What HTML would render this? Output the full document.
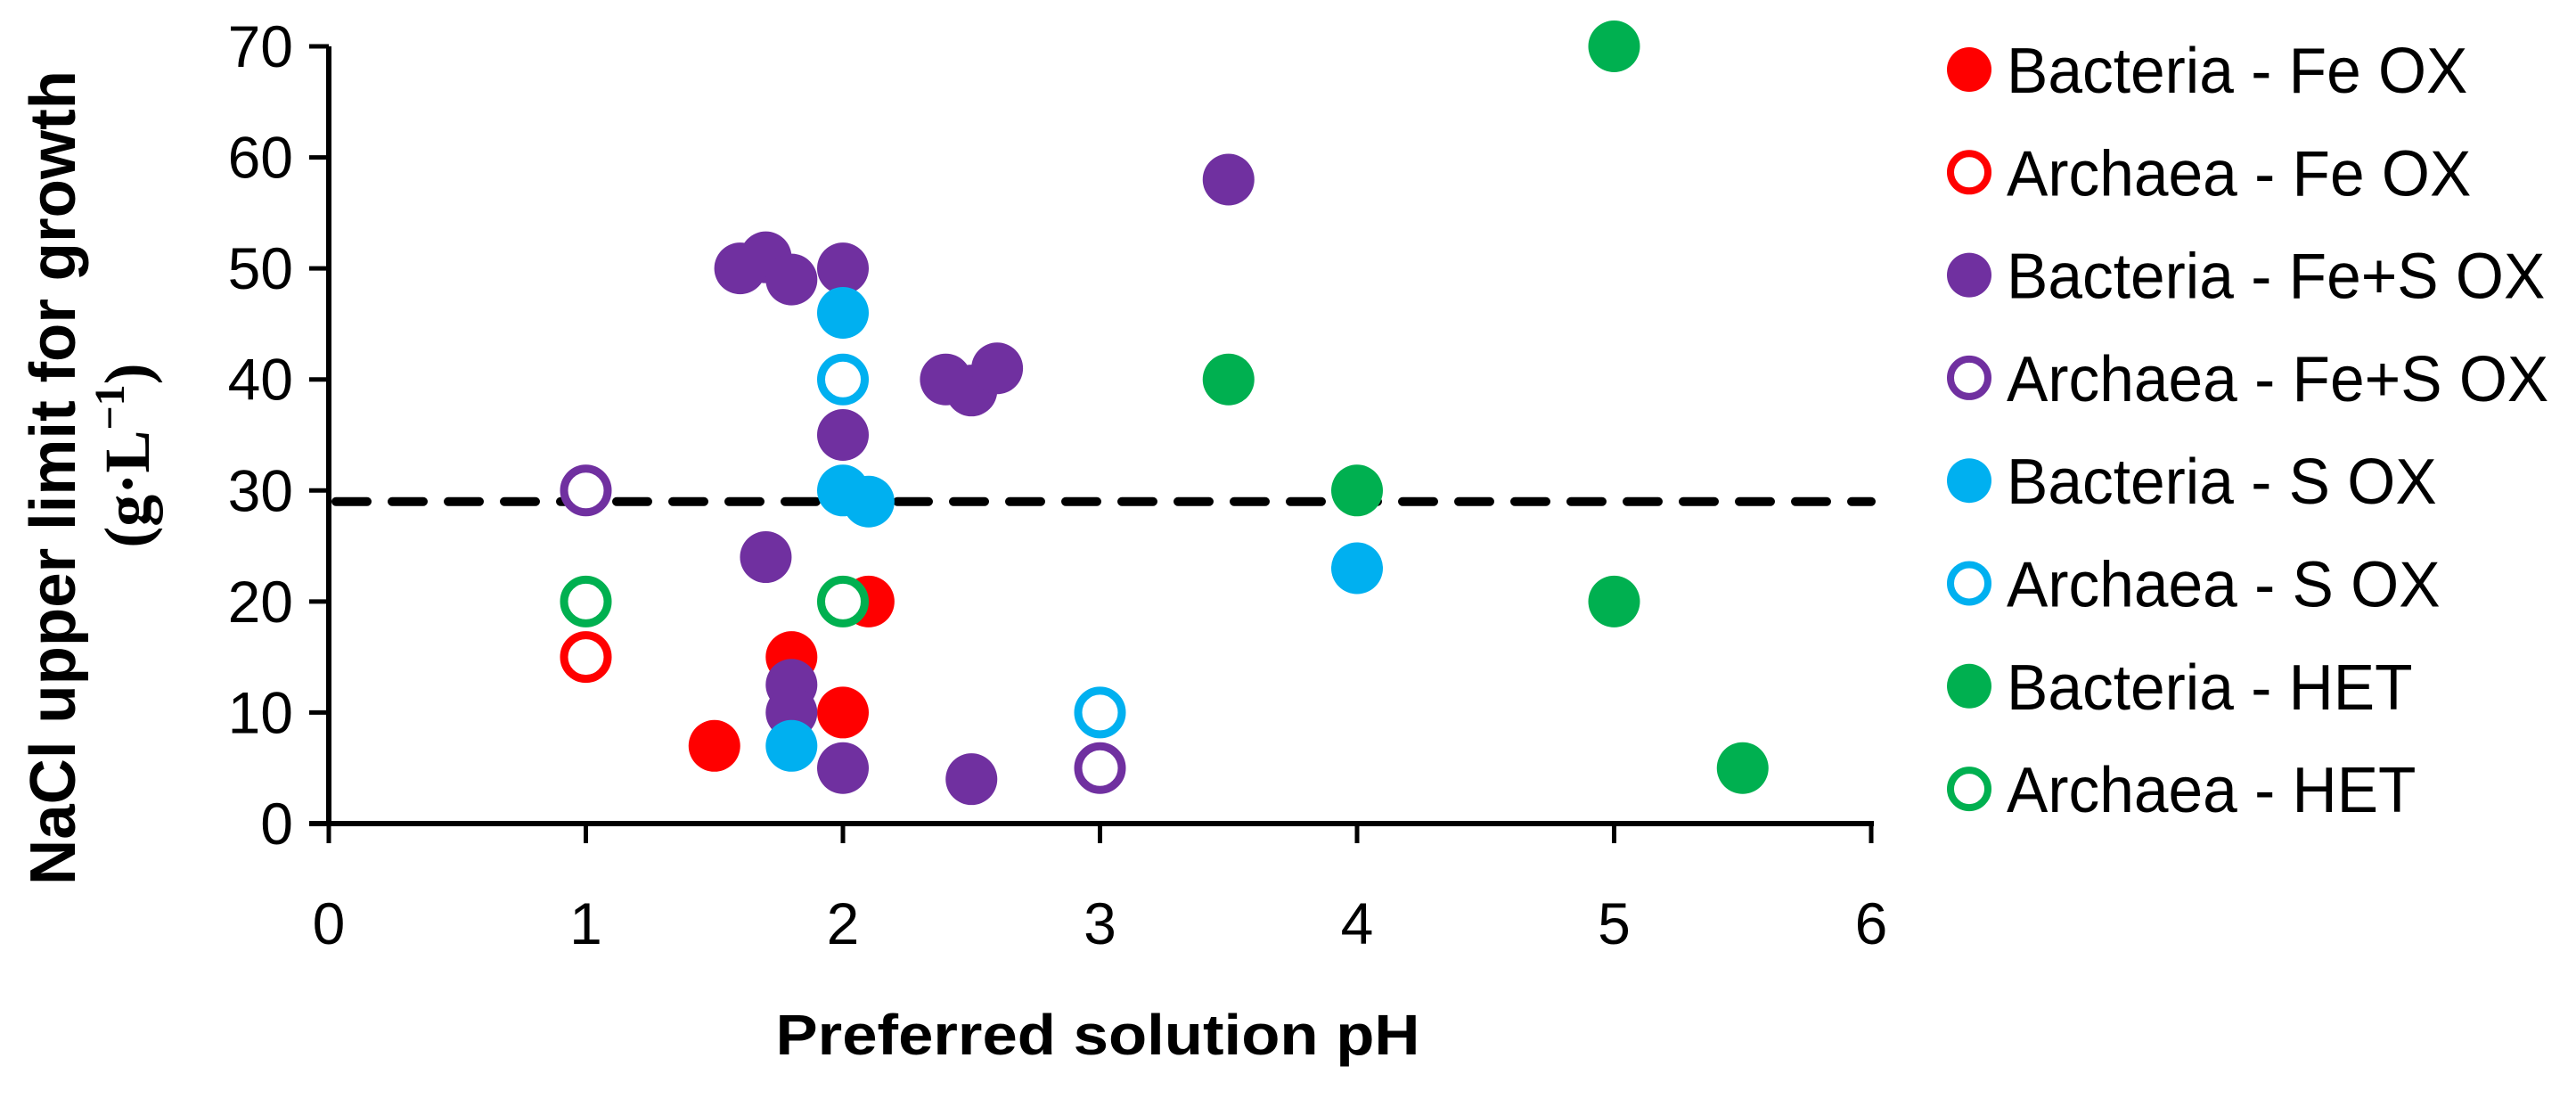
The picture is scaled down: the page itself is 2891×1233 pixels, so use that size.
<!DOCTYPE html>
<html><head><meta charset="utf-8"><style>body{margin:0;background:#fff}svg{display:block}</style></head>
<body>
<svg id="chart" width="2891" height="1233" xmlns="http://www.w3.org/2000/svg" font-family="Liberation Sans, Arial, sans-serif">
<g id="axes"></g>
<g id="marks"></g>
<g id="legend"></g>
<text x="1232" y="1183" font-size="64" font-weight="bold" text-anchor="middle" textLength="723" lengthAdjust="spacingAndGlyphs">Preferred solution pH</text>
<g transform="translate(0,536) rotate(-90)">
<text x="0" y="84" font-size="72" font-weight="bold" text-anchor="middle" textLength="914" lengthAdjust="spacingAndGlyphs">NaCl upper limit for growth</text>
<text x="25" y="167" font-size="72" font-weight="bold" font-family="Liberation Serif, serif" text-anchor="middle">(g·L<tspan font-size="48" dy="-28">−1</tspan><tspan dy="28">)</tspan></text>
</g>
</svg>
<script>
const xTicks=[0,1,2,3,4,5,6];
const yTicks=[0,10,20,30,40,50,60,70];
const threshold=29;
const seriesNames=["Bacteria - Fe OX","Archaea - Fe OX","Bacteria - Fe+S OX","Archaea - Fe+S OX","Bacteria - S OX","Archaea - S OX","Bacteria - HET","Archaea - HET"];
const seriesColors=["#ff0000","#ff0000","#7030a0","#7030a0","#00b0f0","#00b0f0","#00b050","#00b050"];
const seriesOpen=[false,true,false,true,false,true,false,true];
const bacFeX=[1.5,1.8,2,2.1];const bacFeY=[7,15,10,20];
const arcFeX=[1];const arcFeY=[15];
const bacFeSX=[1.6,1.7,1.8,2,3.5,2.4,2.5,2.6,2,1.7,1.8,1.8,2,2.5];const bacFeSY=[50,51,49,50,58,40,39,41,35,24,12.5,10,5,4];
const arcFeSX=[1,3];const arcFeSY=[30,5];
const bacSX=[2,2,2.1,4,1.8];const bacSY=[46,30,29,23,7];
const arcSX=[2,3];const arcSY=[40,10];
const bacHX=[5,3.5,4,5,5.5];const bacHY=[70,40,30,20,5];
const arcHX=[1,2];const arcHY=[20,20];
const seriesX=[bacFeX,arcFeX,bacFeSX,arcFeSX,bacSX,arcSX,bacHX,arcHX];
const seriesY=[bacFeY,arcFeY,bacFeSY,arcFeSY,bacSY,arcSY,bacHY,arcHY];

const NS="http://www.w3.org/2000/svg";
const X0=369,X1=2100,Y0=924,Y1=52;
const sx=v=>X0+(v-0)/(6-0)*(X1-X0);
const sy=v=>Y0-(v-0)/(70-0)*(Y0-Y1);
function mk(t,a,p){const e=document.createElementNS(NS,t);for(const k in a)e.setAttribute(k,a[k]);p.appendChild(e);return e;}
const axes=document.getElementById('axes');
let l=mk('line',{x1:X0,y1:Y1,x2:X0,y2:Y0+1,stroke:'#000','stroke-width':6},axes);


l=mk('line',{x1:X0-22,y1:Y0,x2:X1+3,y2:Y0,stroke:'#000','stroke-width':6},axes);


yTicks.forEach(v=>{
 const t=mk('line',{x1:X0-22,y1:sy(v),x2:X0,y2:sy(v),stroke:'#000','stroke-width':5},axes);
 
 
 const tx=mk('text',{x:X0-40,y:sy(v)+23,'font-size':66,'text-anchor':'end'},axes);
 
 
 tx.textContent=v;
});
xTicks.forEach(v=>{
 const t=mk('line',{x1:sx(v),y1:Y0,x2:sx(v),y2:Y0+22,stroke:'#000','stroke-width':5},axes);
 
 
 const tx=mk('text',{x:sx(v),y:Y0+135,'font-size':66,'text-anchor':'middle'},axes);
 
 
 tx.textContent=v;
});
const th=mk('line',{x1:X0+8,y1:sy(threshold),x2:X1,y2:sy(threshold),stroke:'#000','stroke-width':10,'stroke-dasharray':'35 28','stroke-linecap':'round'},axes);


const marks=document.getElementById('marks');
seriesX.forEach((xs,i)=>{
 xs.forEach((x,j)=>{
  const open=seriesOpen[i];
  const c=mk('ellipse',{cx:sx(x),cy:sy(seriesY[i][j]),rx:open?24.5:29,ry:open?24.5:29,fill:open?'#fff':seriesColors[i],stroke:open?seriesColors[i]:'none','stroke-width':9},marks);
  
  
 });
});
const lg=document.getElementById('legend');
seriesNames.forEach((n,i)=>{
 const y=78+i*115.3;const open=seriesOpen[i];
 const c=mk('ellipse',{cx:2210,cy:y,rx:open?21:25,ry:open?21:25,fill:open?'#fff':seriesColors[i],stroke:open?seriesColors[i]:'none','stroke-width':8},lg);
 
 
 const t=mk('text',{x:2252,y:y+26,'font-size':72},lg);
 
 
 t.textContent=n;
 const w=t.getComputedTextLength();
 t.setAttribute('textLength',w*0.965);
 t.setAttribute('lengthAdjust','spacingAndGlyphs');
});
</script>
</body></html>
